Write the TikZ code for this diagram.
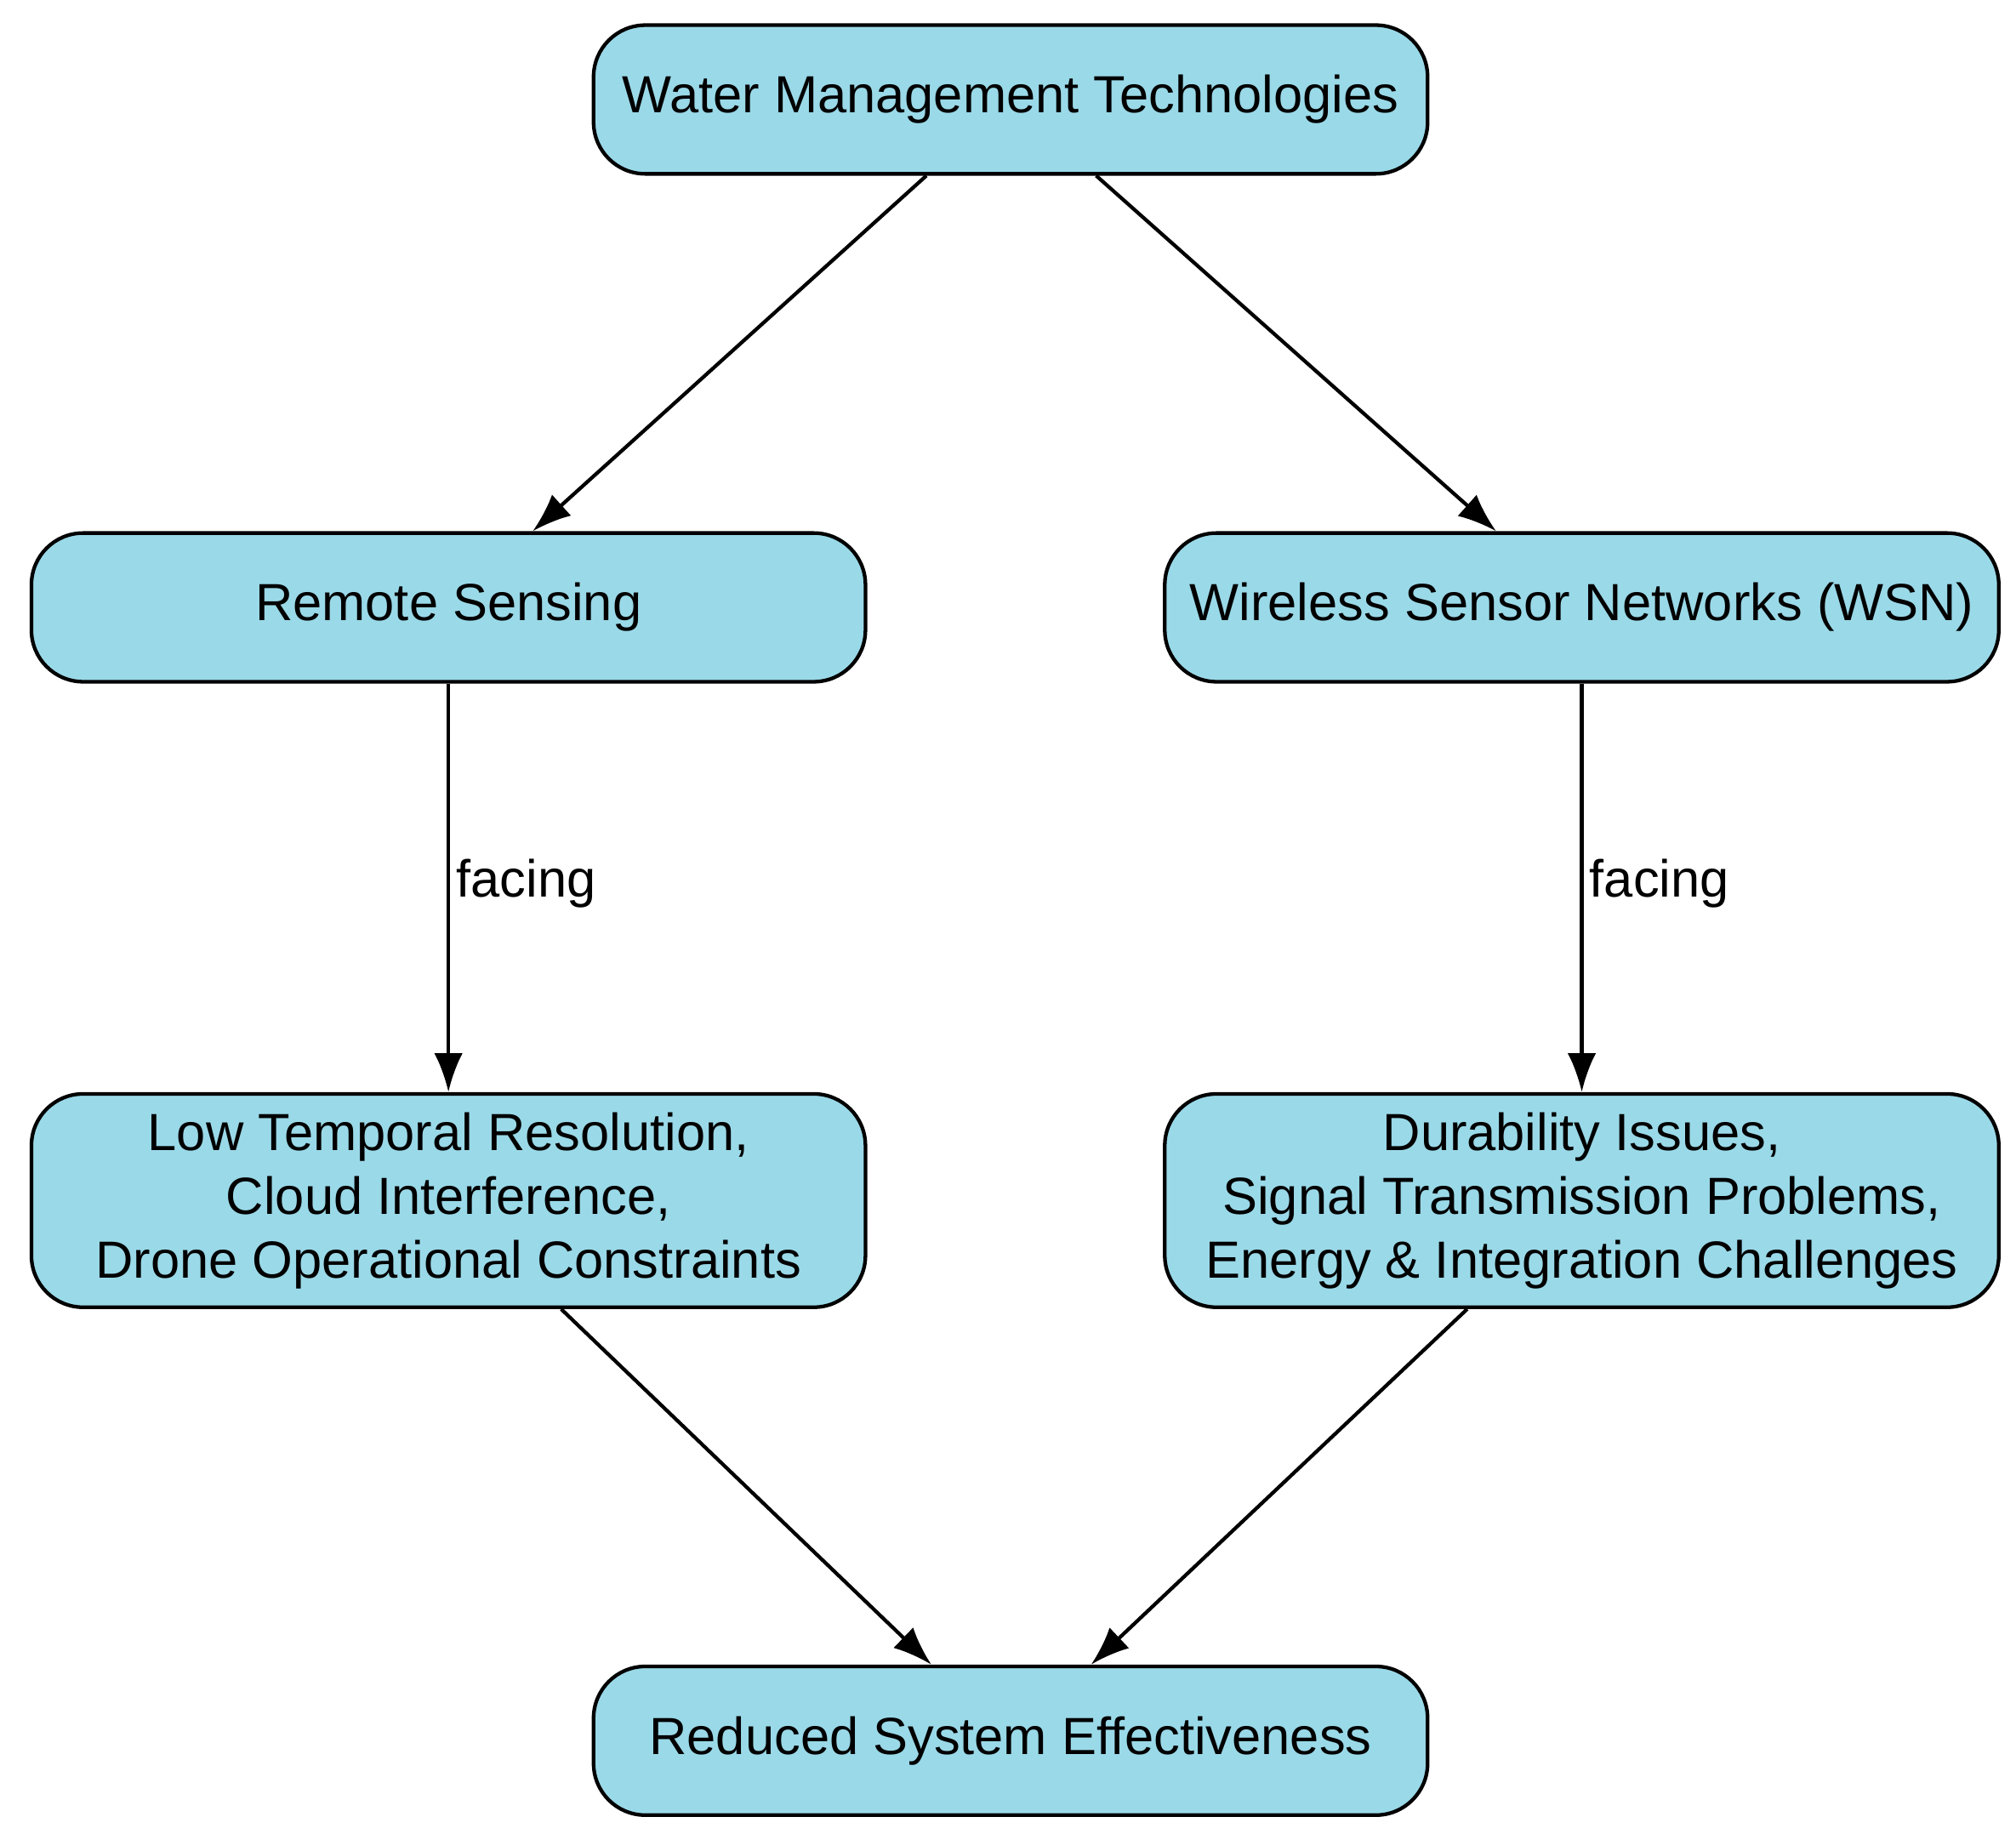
\documentclass[tikz,border=0pt]{standalone}
\usepackage{fontspec}
\setmainfont{Liberation Sans}
\usepackage{xcolor}
\usetikzlibrary{arrows.meta}
\definecolor{boxfill}{HTML}{9AD9E8}
\begin{document}
\begin{tikzpicture}[x=0.01cm,y=-0.01cm,
  box/.style={draw,line width=0.8pt,fill=boxfill,rounded corners=0.4cm,
    minimum width=6.45cm,align=center,font=\fontsize{11.5}{14}\selectfont},
  link/.style={line width=0.8pt,-{Latex[length=3mm,width=2.2mm]}}]
\useasboundingbox (0,0) rectangle (1560,1419);
%
\node (wmt) at (782,77) [box,minimum height=1.15cm] {Water Management Technologies};
\node (rs) at (347,470) [box,minimum height=1.15cm] {Remote Sensing};
\node (wsn) at (1224,470) [box,minimum height=1.15cm] {Wireless Sensor Networks (WSN)};
\node (rsp) at (347,929) [box,minimum height=1.65cm] {Low Temporal Resolution,\\Cloud Interference,\\Drone Operational Constraints};
\node (wsnp) at (1224,929) [box,minimum height=1.65cm] {Durability Issues,\\Signal Transmission Problems,\\Energy \& Integration Challenges};
\node (rse) at (782,1347) [box,minimum height=1.15cm] {Reduced System Effectiveness};
%
\draw[link] (wmt) -- (rs);
\draw[link] (wmt) -- (wsn);
\draw[link] (rs) -- node[right=-2pt,pos=0.49,font=\fontsize{11.5}{14}\selectfont] {facing} (rsp);
\draw[link] (wsn) -- node[right=-2pt,pos=0.49,font=\fontsize{11.5}{14}\selectfont] {facing} (wsnp);
\draw[link] (rsp) -- (rse);
\draw[link] (wsnp) -- (rse);
\end{tikzpicture}
\end{document}
